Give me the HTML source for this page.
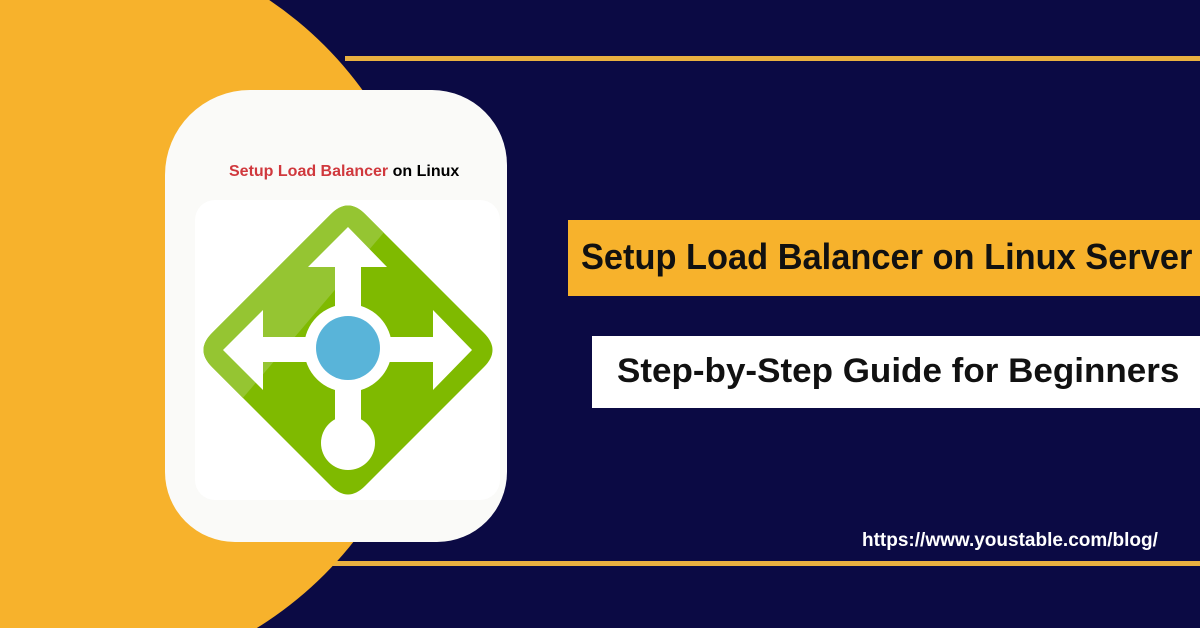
<!DOCTYPE html>
<html><head><meta charset="utf-8"><style>
html,body{margin:0;padding:0;width:1200px;height:628px;overflow:hidden}
#w{width:1200px;height:628px;position:relative;overflow:hidden;background:#0b0a44;font-family:"Liberation Sans",sans-serif}
.abs{position:absolute}
</style></head><body><div id="w">
<svg class="abs" style="left:0;top:0" width="1200" height="628">
<rect x="345" y="56" width="855" height="5" fill="#e9b040"/>
<rect x="300" y="561" width="900" height="5" fill="#e9b040"/>
<circle cx="60" cy="310" r="374" fill="#f7b22c"/>
</svg>
<div class="abs" style="left:165px;top:90px;width:342px;height:452px;background:#fafaf8;border-radius:85px 75px 70px 70px"></div>
<div class="abs" style="left:229px;top:163px;font-size:16px;font-weight:bold;color:#000;white-space:nowrap"><span style="color:#d0383d">Setup Load Balancer</span> on Linux</div>
<svg class="abs" style="left:0;top:0" width="1200" height="628">
<defs><clipPath id="d"><path d="M331 214 Q348 197 365 214 L484 333 Q501 350 484 367 L365 486 Q348 503 331 486 L212 367 Q195 350 212 333 Z"/></clipPath></defs>
<rect x="195" y="200" width="305" height="300" rx="20" fill="#ffffff"/>
<g clip-path="url(#d)">
<rect x="190" y="190" width="320" height="320" fill="#7fba00"/>
<polygon points="190,190 420,190 190,460" fill="#95c532"/>
</g>
<g fill="#fff">
<polygon points="348,227 387,267 361,267 361,310 335,310 335,267 308,267"/>
<polygon points="223,350 263,310 263,337 310,337 310,362 263,362 263,390"/>
<polygon points="472,350 433,310 433,337 386,337 386,362 433,362 433,390"/>
<rect x="335" y="385" width="26" height="40"/>
<circle cx="348" cy="348" r="44"/>
<circle cx="348" cy="443" r="27"/>
</g>
<circle cx="348" cy="348" r="32" fill="#59b4d9"/>
</svg>
<div class="abs" style="left:568px;top:220px;width:632px;height:76px;background:#f7b22c"></div>
<div class="abs" style="left:581px;top:236px;font-size:36px;font-weight:bold;color:#111;white-space:nowrap;transform:scaleX(0.955);transform-origin:0 0">Setup Load Balancer on Linux Server</div>
<div class="abs" style="left:592px;top:336px;width:608px;height:72px;background:#fff"></div>
<div class="abs" style="left:617px;top:352px;font-size:34px;font-weight:bold;color:#111;white-space:nowrap;transform:scaleX(1.03);transform-origin:0 0">Step-by-Step Guide for Beginners</div>
<div class="abs" style="left:862px;top:530px;font-size:19px;font-weight:bold;color:#fff;white-space:nowrap">https://www.youstable.com/blog/</div>
</div></body></html>
